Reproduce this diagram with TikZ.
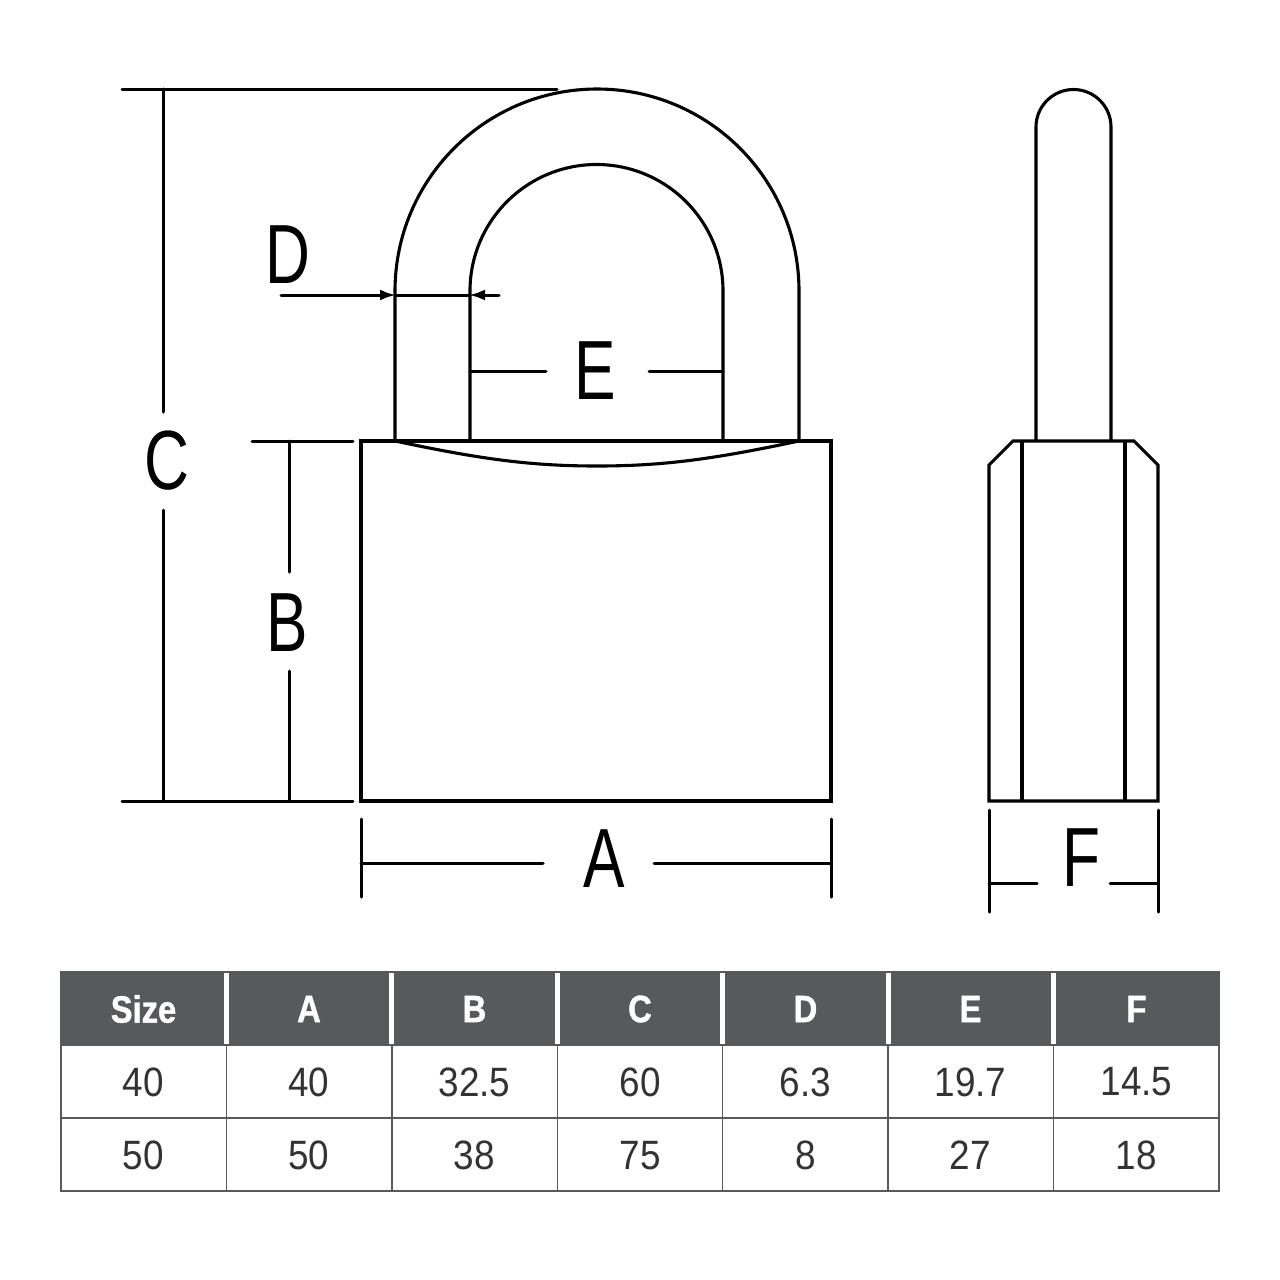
\documentclass[tikz,border=0pt]{standalone}
\usepackage{fontspec}
\setmainfont{Liberation Sans}
\newfontfamily\dimfont[FakeStretch=0.74]{Liberation Sans}
\newfontfamily\cellfont[FakeStretch=0.9]{Liberation Sans}
\newfontfamily\headfont[FakeStretch=0.86,FakeBold=1.2]{Liberation Sans Bold}
\definecolor{headgrey}{HTML}{58595B}
\definecolor{cellink}{HTML}{333333}
\usetikzlibrary{arrows.meta}
\tikzset{
  outline/.style={line width=3.1pt,line join=miter,black},
  dimline/.style={line width=3pt,line cap=round,black},
  dimlabel/.style={inner sep=0pt,font=\dimfont\fontsize{84}{84}\selectfont,black},
  headcell/.style={inner sep=0pt,text=white,font=\headfont\fontsize{38}{38}\selectfont},
  bodycell/.style={inner sep=0pt,text=cellink,font=\cellfont\fontsize{41}{41}\selectfont},
  gridline/.style={line width=1.5pt,headgrey},
  headsep/.style={line width=5pt,white},
  pointer/.style={-{Latex[length=16pt,width=11pt]},line width=3pt,line cap=round,black,shorten >=-1pt}
}
\begin{document}
\begin{tikzpicture}[x=1pt,y=-1pt]
\useasboundingbox (0,0) rectangle (1280,1280);
\fill[white] (0,0) rectangle (1280,1280);
% front view
\draw[outline] (361,441) rectangle (831,801);
\draw[outline] (395,441) -- (395,291) arc[start angle=180,end angle=0,x radius=202,y radius=-202] -- (799,441);
\draw[outline] (470,441) -- (470,291) arc[start angle=180,end angle=0,x radius=126.5,y radius=-126.5] -- (723,441);
\draw[outline] (395,441) .. controls (480,459) and (530,466) .. (597,466) .. controls (664,466) and (714,459) .. (799,441);
% side view
\draw[outline] (1036,441) -- (1036,127) arc[start angle=180,end angle=0,x radius=37.5,y radius=-37.5] -- (1111,441);
\draw[outline] (989,801) -- (989,465) -- (1013,441) -- (1134,441) -- (1158,465) -- (1158,801) -- cycle;
\draw[outline] (1022,441) -- (1022,801);
\draw[outline] (1125,441) -- (1125,801);
% dimension labels
\node[dimlabel] (labA) at (604,859) {A};
\node[dimlabel] (labB) at (287,623) {B};
\node[dimlabel] (labC) at (167,461) {C};
\node[dimlabel] (labD) at (288,255) {D};
\node[dimlabel] (labE) at (595,371) {E};
\node[dimlabel] (labF) at (1081,858) {F};
% dimension end points
\coordinate (ct1) at (122,89); \coordinate (ct2) at (557,89);
\coordinate (cb1) at (122,801); \coordinate (cb2) at (353,801);
\coordinate (bt1) at (252,441); \coordinate (bt2) at (353,441);
\coordinate (cu1) at (163,89); \coordinate (cu2) at (163,412);
\coordinate (cd1) at (163,510); \coordinate (cd2) at (163,801);
\coordinate (bu1) at (289,441); \coordinate (bu2) at (289,572);
\coordinate (bd1) at (289,671); \coordinate (bd2) at (289,801);
\coordinate (al1) at (361,819); \coordinate (al2) at (361,897);
\coordinate (ar1) at (831,819); \coordinate (ar2) at (831,897);
\coordinate (ah1) at (361,863); \coordinate (ah2) at (543,863);
\coordinate (ah3) at (654,863); \coordinate (ah4) at (831,863);
\coordinate (fl1) at (989,810); \coordinate (fl2) at (989,912);
\coordinate (fr1) at (1158,810); \coordinate (fr2) at (1158,912);
\coordinate (fh1) at (989,883); \coordinate (fh2) at (1037,883);
\coordinate (fh3) at (1110,883); \coordinate (fh4) at (1158,883);
\coordinate (eh1) at (470,371); \coordinate (eh2) at (546,371);
\coordinate (eh3) at (649,371); \coordinate (eh4) at (723,371);
\coordinate (dl) at (281,295); \coordinate (dm1) at (395,295);
\coordinate (dr) at (499,295); \coordinate (dm2) at (470,295);
\foreach \p/\q in {ct1/ct2,cb1/cb2,bt1/bt2,cu1/cu2,cd1/cd2,bu1/bu2,bd1/bd2,al1/al2,ar1/ar2,ah1/ah2,ah3/ah4,fl1/fl2,fr1/fr2,fh1/fh2,fh3/fh4,eh1/eh2,eh3/eh4,dm1/dm2}
  \draw[dimline] (\p) -- (\q);
\draw[pointer] (dl) -- (dm1);
\draw[pointer] (dr) -- (dm2);
% table
\fill[headgrey] (61,972) rectangle (1219,1045);
\foreach \x in {226.4,391.8,557.3,722.7,888.1,1053.6} {
  \draw[headsep] (\x,972) -- (\x,1045);
  \draw[gridline] (\x,1045) -- (\x,1191);
}
\draw[gridline] (61,1118) -- (1219,1118);
\draw[gridline] (61,1045) -- (1219,1045);
\draw[gridline] (61,972) rectangle (1219,1191);
\foreach \i/\x/\h/\r/\s in {0/143.5/Size/40/50,1/309/A/40/50,2/474.5/B/32.5/38,3/640/C/60/75,4/805.5/D/6.3/8,5/970.5/E/19.7/27,6/1136.5/F/14.5/18} {
  \node[headcell] (h\i) at (\x,1009) {\h};
  \node[bodycell] (r\i) at (\x,1082) {\r};
  \node[bodycell] (s\i) at (\x,1155.5) {\s};
}
\end{tikzpicture}
\end{document}
